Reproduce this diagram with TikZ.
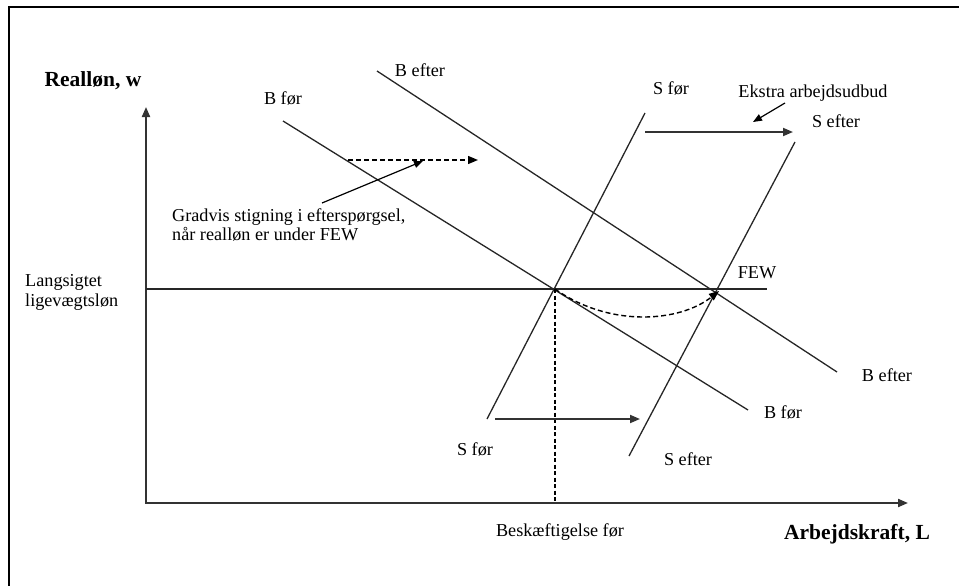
\documentclass[tikz,border=0pt]{standalone}
\usepackage{fontspec}
\setmainfont{Liberation Serif}
\usetikzlibrary{arrows.meta}
\begin{document}
\begin{tikzpicture}[x=1pt,y=-1pt,
  curve/.style={line width=1.3pt, draw=black!85},
  axisline/.style={line width=2pt, draw=black!80},
  shiftarrow/.style={line width=1.9pt, draw=black!80, -{Triangle[length=10pt,width=8pt]}},
  dsh/.style={line width=1.4pt, dash pattern=on 5pt off 3pt, -{Triangle[length=10pt,width=8pt]}},
  pointer/.style={line width=1.2pt, -{Triangle[length=9pt,width=7pt]}},
  lbl/.style={font=\fontsize{18.2}{19}\selectfont, inner sep=0pt},
  axlbl/.style={font=\fontsize{21.5}{24}\selectfont\bfseries, inner sep=0pt}]
\useasboundingbox (0,0) rectangle (959,586);
% frame
\draw[line width=2.2pt] (9,586) -- (9,7) -- (959,7);

% axes
\coordinate (O) at (146,503);
\coordinate (Ytip) at (146,107);
\coordinate (Xtip) at (908,503);
\draw[axisline, {Triangle[length=10pt,width=8pt]}-{Triangle[length=10pt,width=8pt]}] (Ytip) -- (O) -- (Xtip);

% curves
\coordinate (Bf1) at (283,121);  \coordinate (Bf2) at (748,410);
\coordinate (Be1) at (377,71);   \coordinate (Be2) at (837,372);
\coordinate (Sf1) at (645,113);  \coordinate (Sf2) at (487,419);
\coordinate (Se1) at (795,142);  \coordinate (Se2) at (629,456);
\coordinate (H1) at (146,289);   \coordinate (H2) at (767,289);
\coordinate (E0) at (555,289);   \coordinate (E0x) at (555,503);
\coordinate (FEWp) at (719,291);
\draw[curve] (Bf1) -- (Bf2);
\draw[curve] (Be1) -- (Be2);
\draw[curve] (Sf1) -- (Sf2);
\draw[curve] (Se1) -- (Se2);
\draw[curve] (H1) -- (H2);
\draw[line width=1.1pt, dash pattern=on 4pt off 2.5pt] (E0) -- (E0x);

% shift arrows
\coordinate (Lo1) at (495,419); \coordinate (Lo2) at (640,419);
\coordinate (Up1) at (645,132); \coordinate (Up2) at (793,132);
\draw[shiftarrow] (Lo1) -- (Lo2);
\draw[shiftarrow] (Up1) -- (Up2);

% dashed demand increase
\coordinate (Dh1) at (348,160); \coordinate (Dh2) at (478,160);
\draw[dsh] (Dh1) -- (Dh2);
\draw[dsh] (E0) .. controls (610,328) and (680,322) .. (FEWp);

% labels
\node[axlbl] (yl) at (93,81) {Realløn, w};
\node[axlbl] (xl) at (857,534) {Arbejdskraft, L};
\node[lbl] (bf1) at (283,98) {B før};
\node[lbl] (be1) at (420,70) {B efter};
\node[lbl] (sf1) at (671,88) {S før};
\node[lbl] (ex) at (813,93) {Ekstra arbejdsudbud};
\node[lbl] (se1) at (836,121) {S efter};
\node[lbl, align=left, anchor=west, font=\fontsize{18.2}{19}\selectfont] (grad) at (172,225) {Gradvis stigning i efterspørgsel,\\når realløn er under FEW};
\node[lbl, align=left, anchor=west, font=\fontsize{18.2}{20}\selectfont] (lang) at (25,292) {Langsigtet\\ligevægtsløn};
\node[lbl] (few) at (757,273) {FEW};
\node[lbl] (be2) at (887,375) {B efter};
\node[lbl] (bf2) at (783,412) {B før};
\node[lbl] (sf2) at (475,449) {S før};
\node[lbl] (se2) at (688,459) {S efter};
\node[lbl] (besk) at (560,532) {Beskæftigelse før};

% pointers
\coordinate (P1s) at (322,203); \coordinate (P1e) at (423,161);
\draw[pointer] (P1s) -- (P1e);
\coordinate (P2s) at (785,103); \coordinate (P2e) at (753,122);
\draw[pointer] (P2s) -- (P2e);
\end{tikzpicture}
\end{document}
